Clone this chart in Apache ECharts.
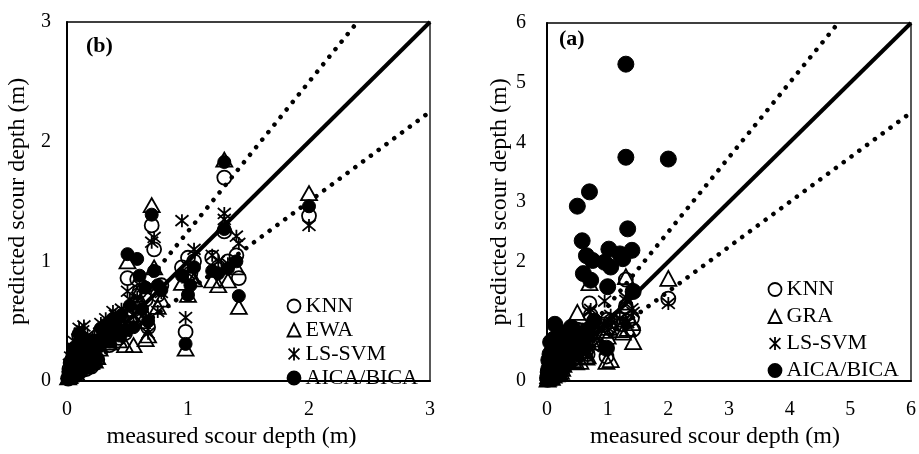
<!DOCTYPE html>
<html>
<head>
<meta charset="utf-8">
<script src="https://cdn.jsdelivr.net/npm/echarts@6/dist/echarts.min.js"></script>
<style>html,body{margin:0;padding:0;background:#fff;}#c{width:919px;height:454px;}</style>
</head>
<body>
<div id="c"></div>
<script>
// measured scour depth (m), shared by both panels
var measured = [0.01,0.02,0.03,0.04,0.05,0.06,0.07,0.08,0.09,0.10, 0.10,0.11,0.12,0.13,0.14,0.15,0.16,0.17,0.18,0.20, 0.22,0.25, 0.30,0.33,0.35,0.40,0.43,0.48,0.50,0.52, 0.55,0.58,0.60,0.62,0.65,0.67,0.70,0.72,0.75,0.78, 0.98,0.95,1.00,1.02,1.05,1.20,1.25,1.30,1.30,1.33, 1.40,1.42,2.00, 0.02,0.03,0.05,0.06,0.08,0.09,0.11,0.12,0.14,0.19, 0.21,0.23,0.27,0.28,0.32,0.38,0.45];
// predicted values
var knn = [0.02,0.05,0.08,0.10,0.06,0.14,0.20,0.12,0.28,0.18, 0.38,0.08,0.25,0.34,0.15,0.22,0.10,0.30,0.19,0.12, 0.26,0.18, 0.36,0.40,0.30,0.45,0.36,0.40,0.86,0.60, 0.48,0.85,0.75,0.55,0.68,0.45,1.30,1.10,0.72,0.80, 0.41,0.95,1.03,0.90,1.00,1.03,0.95,1.70,1.25,1.00, 1.05,0.86,1.38, 0.10,0.15,0.20,0.26,0.05,0.16,0.30,0.20,0.28,0.24, 0.32,0.15,0.30,0.42,0.45,0.50,0.52];
var ewa = [0.03,0.04,0.06,0.12,0.09,0.11,0.16,0.10,0.22,0.20, 0.33,0.12,0.28,0.30,0.18,0.25,0.13,0.27,0.21,0.16, 0.24,0.20, 0.34,0.38,0.32,0.40,0.34,0.30,1.00,0.55, 0.30,0.72,0.66,0.50,0.35,0.38,1.47,0.95,0.62,0.68, 0.27,0.82,0.72,0.88,0.85,0.84,0.80,1.85,1.30,0.84, 0.95,0.62,1.57, 0.08,0.13,0.17,0.22,0.06,0.14,0.24,0.18,0.25,0.22, 0.28,0.17,0.27,0.36,0.40,0.45,0.48];
var lssvm = [0.04,0.06,0.05,0.09,0.12,0.18,0.25,0.15,0.35,0.22, 0.44,0.10,0.30,0.42,0.16,0.27,0.12,0.38,0.17,0.14, 0.30,0.22, 0.40,0.47,0.36,0.55,0.40,0.48,0.75,0.68, 0.55,0.70,0.80,0.58,0.52,0.40,1.16,1.20,0.58,0.74, 0.53,1.34,0.90,0.95,1.10,1.05,1.00,1.40,1.35,0.98, 1.21,1.15,1.30, 0.14,0.20,0.28,0.33,0.07,0.22,0.40,0.24,0.46,0.28, 0.36,0.20,0.40,0.48,0.52,0.58,0.60];
var aicaB = [0.02,0.03,0.07,0.08,0.10,0.15,0.22,0.13,0.30,0.17, 0.40,0.09,0.26,0.36,0.14,0.21,0.11,0.32,0.20,0.13, 0.27,0.19, 0.37,0.42,0.33,0.47,0.38,0.42,1.06,0.63, 0.45,1.02,0.88,0.60,0.78,0.50,1.39,0.92,0.80,0.76, 0.31,0.88,0.72,0.80,0.95,0.92,0.90,1.83,1.27,0.94, 1.00,0.71,1.46, 0.09,0.17,0.22,0.28,0.05,0.18,0.33,0.21,0.30,0.25, 0.34,0.16,0.31,0.44,0.47,0.52,0.55];
var gra = [0.03,0.05,0.07,0.10,0.08,0.12,0.18,0.11,0.25,0.19, 0.35,0.10,0.27,0.32,0.17,0.24,0.12,0.29,0.20,0.15, 0.25,0.21, 0.35,0.40,0.33,0.42,0.36,0.32,1.15,0.58, 0.33,0.75,0.70,0.52,0.40,0.42,1.65,1.00,0.65,0.70, 0.33,0.85,0.75,0.90,0.36,0.86,0.82,1.75,1.32,0.88, 0.98,0.66,1.72, 0.09,0.14,0.18,0.24,0.06,0.15,0.26,0.19,0.27,0.23, 0.30,0.16,0.28,0.38,0.42,0.47,0.50];
var aicaA = [0.05,0.10,0.20,0.15,0.30,0.25,0.40,0.35,0.50,0.30, 0.55,0.20,0.60,0.95,0.45,0.35,0.25,0.50,0.30,0.20, 0.55,0.35, 0.60,0.75,0.45,0.90,0.60,0.55,2.93,0.76, 0.80,2.35,1.80,0.70,2.10,0.85,3.17,1.69,2.02,1.00, 0.55,1.99,1.58,2.21,1.91,2.13,2.05,5.31,3.75,2.55, 2.19,1.50,3.72, 0.15,0.35,0.45,0.65,0.10,0.40,0.70,0.50,0.60,0.45, 0.65,0.40,0.70,0.80,0.70,0.85,0.75];
// reference lines: slope of perfect fit and +/-25% bounds
var refSlopes = [1, 1.25, 0.75];
var axisMaxB = 3, axisMaxA = 6;
var tickLabelsB = ['0','1','2','3'];
var tickLabelsA = ['0','1','2','3','4','5','6'];
var legendB = ['KNN','EWA','LS-SVM','AICA/BICA'];
var legendA = ['KNN','GRA','LS-SVM','AICA/BICA'];

function pairs(xs, ys){ return xs.map(function(x,i){ return [x, ys[i]]; }); }
function refLine(slope, max){
  var xEnd = Math.min(max, max/slope);
  return [[0,0],[xEnd, xEnd*slope]];
}
var FONT = '"Liberation Serif","Times New Roman",serif';
var STAR = 'path://M0,0L10,10M10,0L0,10M5,-1L5,11';

function makeAxis(idx, max, labels, name, isX, pad){
  var a = {
    type:'value', gridIndex: idx, min:0, max:max, interval:1,
    splitLine:{show:false}, axisTick:{show:false},
    axisLine:{show:true, onZero:false, lineStyle:{color:'#000', width:2}},
    axisLabel:{color:'#000', fontFamily:FONT, fontSize:20,
      margin: isX ? 19 : (idx===0?16:21),
      formatter:function(v){ return labels[Math.round(v)]; }},
    name:name, nameLocation:'middle',
    nameTextStyle:{color:'#000', fontFamily:FONT, fontSize:24, padding: pad}
  };
  a.nameGap = isX ? 44 : (idx===0 ? 37 : 32);
  return a;
}

function lineSeries(idx, slope, max, solid){
  return {
    type:'line', xAxisIndex:idx, yAxisIndex:idx, data:refLine(slope,max),
    symbol:'none', silent:true, z:1,
    lineStyle: solid ? {color:'#000', width:4} : {color:'#000', width:4.5, type:[0.1,9.6], cap:'round'}
  };
}
function scatter(idx, name, data, symbol, size, filled){
  return {
    type:'scatter', name:name, xAxisIndex:idx, yAxisIndex:idx, data:data,
    symbol:symbol, symbolSize:size, z:3,
    itemStyle: filled ? {color:'#000', borderColor:'#000', borderWidth:1, opacity:1}
                      : {color:'none', borderColor:'#000', borderWidth:1.8, opacity:1}
  };
}

var series = [];
refSlopes.forEach(function(s,i){ series.push(lineSeries(0, s, axisMaxB, i===0)); });
refSlopes.forEach(function(s,i){ series.push(lineSeries(1, s, axisMaxA, i===0)); });
series.push(scatter(0,'KNN',pairs(measured,knn),'circle',14,false));
series.push(scatter(0,'EWA',pairs(measured,ewa),'triangle',[16,14],false));
series.push(scatter(0,'LS-SVM',pairs(measured,lssvm),STAR,13,false));
series.push(scatter(0,'AICA/BICA',pairs(measured,aicaB),'circle',13,true));
series.push(scatter(1,'KNN',pairs(measured,knn),'circle',14,false));
series.push(scatter(1,'GRA',pairs(measured,gra),'triangle',[16,15],false));
series.push(scatter(1,'LS-SVM',pairs(measured,lssvm),STAR,13,false));
series.push(scatter(1,'AICA/BICA',pairs(measured,aicaA),'circle',16,true));

var legendCommon = {
  orient:'vertical', itemWidth:13, itemHeight:13, itemGap:0,
  selectedMode:false,
  itemStyle:{borderWidth:1.8},
  textStyle:{color:'#000', fontFamily:FONT, fontSize:22}
};

var option = {
  backgroundColor:'#fff',
  animation:false,
  grid:[
    {left:67, top:22, width:363, height:366, show:true, borderColor:'#000', borderWidth:1.3, backgroundColor:'transparent'},
    {left:547, top:23, width:364, height:365, show:true, borderColor:'#000', borderWidth:1.3, backgroundColor:'transparent'}
  ],
  xAxis:[
    makeAxis(0, axisMaxB, tickLabelsB, 'measured scour depth (m)', true, [0,34,0,0]),
    makeAxis(1, axisMaxA, tickLabelsA, 'measured scour depth (m)', true, [0,28,0,0])
  ],
  yAxis:[
    makeAxis(0, axisMaxB, tickLabelsB, 'predicted scour depth (m)', false, 0),
    makeAxis(1, axisMaxA, tickLabelsA, 'predicted scour depth (m)', false, 0)
  ],
  legend:[
    Object.assign({}, legendCommon, {data:legendB, left:280, top:289,
      textStyle:Object.assign({}, legendCommon.textStyle, {lineHeight:24})}),
    Object.assign({}, legendCommon, {data:legendA, left:761, top:271,
      textStyle:Object.assign({}, legendCommon.textStyle, {lineHeight:27})})
  ],
  graphic:[
    {type:'text', left:86, top:35, style:{text:'(b)', font:'bold 22px ' + FONT, fill:'#000'}},
    {type:'text', left:559, top:28, style:{text:'(a)', font:'bold 22px ' + FONT, fill:'#000'}}
  ],
  series:series
};
var chart = echarts.init(document.getElementById('c'), null, {renderer:'canvas'});
chart.setOption(option);
</script>
</body>
</html>
